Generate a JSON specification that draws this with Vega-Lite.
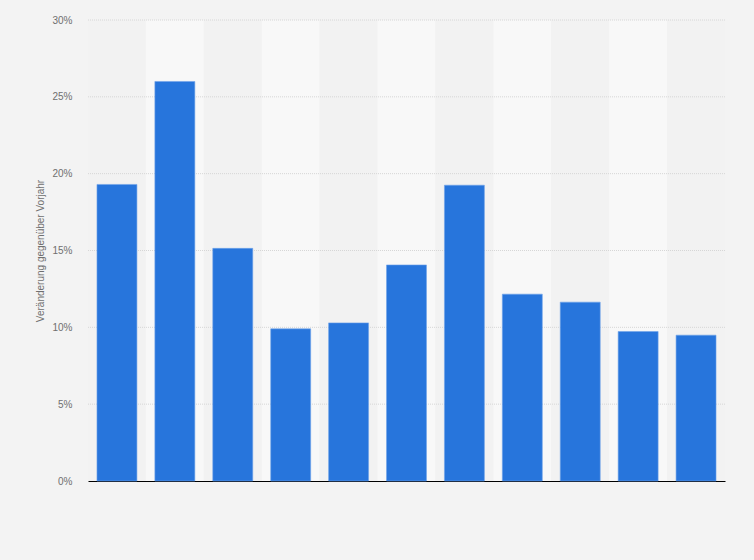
{
  "$schema": "https://vega.github.io/schema/vega-lite/v6.json",
  "width": 637,
  "height": 461,
  "autosize": "none",
  "padding": {"left": 88, "top": 20, "right": 29, "bottom": 79},
  "background": "#f3f3f3",
  "config": {"view": {"stroke": null}, "font": "Liberation Sans"},
  "datasets": {
    "bars": [
      {"k": "1", "v": 19.3},
      {"k": "2", "v": 26.0},
      {"k": "3", "v": 15.14},
      {"k": "4", "v": 9.9},
      {"k": "5", "v": 10.29},
      {"k": "6", "v": 14.06},
      {"k": "7", "v": 19.25},
      {"k": "8", "v": 12.16},
      {"k": "9", "v": 11.64},
      {"k": "10", "v": 9.73},
      {"k": "11", "v": 9.49}
    ],
    "grid": [{"t": 5}, {"t": 10}, {"t": 15}, {"t": 20}, {"t": 25}, {"t": 30}]
  },
  "resolve": {"scale": {"x": "independent"}},
  "layer": [
    {
      "data": {"name": "bars"},
      "transform": [{"window": [{"op": "row_number", "as": "i"}]}],
      "mark": {"type": "rect"},
      "encoding": {
        "x": {"field": "k", "type": "ordinal", "sort": null, "scale": {"paddingInner": 0, "paddingOuter": 0}, "axis": null},
        "y": {"datum": 0, "type": "quantitative", "scale": {"domain": [0, 30]}},
        "y2": {"datum": 30},
        "color": {"condition": {"test": "datum.i % 2 == 0", "value": "#f8f8f8"}, "value": "#f2f2f2"}
      }
    },
    {
      "data": {"name": "grid"},
      "mark": {"type": "rule", "stroke": "#d6d6d6", "strokeDash": [1, 1], "strokeWidth": 1},
      "encoding": {
        "y": {"field": "t", "type": "quantitative"}
      }
    },
    {
      "data": {"name": "bars"},
      "mark": {"type": "bar", "color": "#2775dc", "stroke": "#6ea2ea", "strokeWidth": 0.6},
      "encoding": {
        "x": {
          "field": "k", "type": "ordinal", "sort": null,
          "scale": {"paddingInner": 0.31, "paddingOuter": 0.155},
          "axis": {"labels": false, "ticks": false, "title": null, "domainColor": "#000000", "domainWidth": 1, "grid": false}
        },
        "y": {
          "field": "v", "type": "quantitative",
          "scale": {"domain": [0, 30]},
          "axis": {
            "values": [0, 5, 10, 15, 20, 25, 30],
            "labelExpr": "datum.value + '%'",
            "grid": false, "domain": false, "ticks": false,
            "labelColor": "#6f6f6f", "labelFontSize": 10, "labelPadding": 16,
            "title": "Veränderung gegenüber Vorjahr",
            "titleColor": "#6f6f6f", "titleFontSize": 10, "titleFontWeight": "normal",
            "titlePadding": 6
          }
        }
      }
    }
  ]
}
